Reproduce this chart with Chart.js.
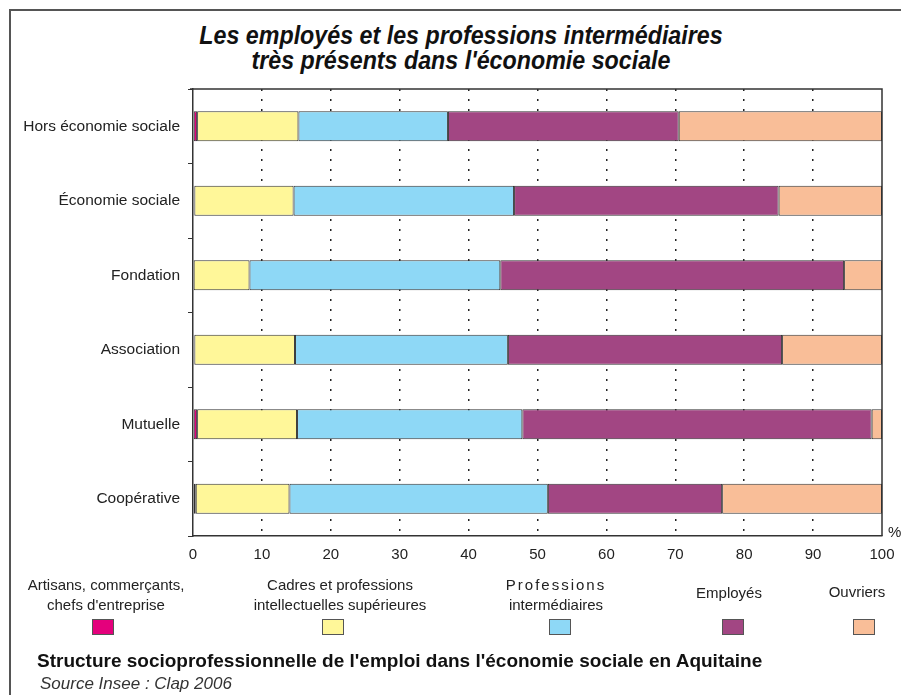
<!DOCTYPE html>
<html lang="fr">
<head>
<meta charset="utf-8">
<script src="https://cdn.jsdelivr.net/npm/chart.js@4"></script>
<style>
  body { margin: 0; background: #fff; }
  #wrap { position: relative; width: 901px; height: 695px; overflow: hidden; font-family: "Liberation Sans", Arial, sans-serif; color: #222; }
  #wrap canvas { position: absolute; left: 0; top: 0; }
  .frame { position: absolute; left: 9px; top: 9px; width: 1000px; height: 1000px; border-left: 2px solid #555; border-top: 2px solid #555; }
  .title { position: absolute; left: 0; width: 922px; top: 23px; text-align: center; font-weight: bold; font-style: italic; font-size: 25px; line-height: 25px; color: #111; transform: scaleX(0.93); transform-origin: 461px 0; }
  .pct { position: absolute; left: 888px; top: 523px; font-size: 15px; }
  .leg { position: absolute; width: 240px; text-align: center; font-size: 15px; line-height: 20px; color: #222; }
  .sp { letter-spacing: 2px; }
  .sq { position: absolute; top: 619px; width: 20px; height: 14px; border: 1px solid #555; }
  .caption { position: absolute; left: 37px; top: 650px; font-weight: bold; font-size: 19px; color: #111; }
  .source { position: absolute; left: 40px; top: 674px; font-style: italic; font-size: 17px; color: #333; }
</style>
</head>
<body>
<div id="wrap">
  <div class="frame"></div>
  <div class="title">Les employés et les professions intermédiaires<br>très présents dans l'économie sociale</div>
  <canvas id="chart" width="901" height="695"></canvas>
  <div class="pct">%</div>
  <div id="legend"></div>
  <div class="caption">Structure socioprofessionnelle de l'emploi dans l'économie sociale en Aquitaine</div>
  <div class="source">Source Insee : Clap 2006</div>
</div>
<script>
const categories = ['Hors économie sociale', 'Économie sociale', 'Fondation', 'Association', 'Mutuelle', 'Coopérative'];

const artisans = [0.6, 0.2, 0.1, 0.2, 0.6, 0.4];
const cadres = [14.7, 14.4, 8.1, 14.6, 14.5, 13.6];
const intermediaires = [21.7, 32.0, 36.4, 30.9, 32.7, 37.5];
const employes = [33.5, 38.4, 49.9, 39.8, 50.7, 25.3];
const ouvriers = [29.5, 15.0, 5.5, 14.5, 1.5, 23.2];

const seriesNames = ['Artisans, commerçants,<br>chefs d\'entreprise', 'Cadres et professions<br>intellectuelles supérieures', '<span class="sp">Professions</span><br>intermédiaires', 'Employés', 'Ouvriers'];
const seriesColors = ['#e4007c', '#fff799', '#8ed8f6', '#a24683', '#f9be98'];
const xTicks = [0, 10, 20, 30, 40, 50, 60, 70, 80, 90, 100];

// legende faite en html, positions prises sur l'image
const legendPos = [
    { x: 106, y: 575, sq: 92 },
    { x: 340, y: 575, sq: 322 },
    { x: 556, y: 575, sq: 549 },
    { x: 729, y: 583, sq: 722 },
    { x: 857, y: 582, sq: 853 }
];
const legend = document.getElementById('legend');
legendPos.forEach((p, i) => {
    const t = document.createElement('div');
    t.className = 'leg';
    t.style.left = (p.x - 120) + 'px';
    t.style.top = p.y + 'px';
    t.innerHTML = seriesNames[i];
    legend.appendChild(t);
    const s = document.createElement('div');
    s.className = 'sq';
    s.style.left = p.sq + 'px';
    s.style.background = seriesColors[i];
    legend.appendChild(s);
});

const frame = {
    id: 'frame',
    afterDatasetsDraw(chart) {
        const { ctx, chartArea: a } = chart;
        ctx.save();
        ctx.strokeStyle = '#333';
        ctx.lineWidth = 1.5;
        ctx.beginPath();
        ctx.moveTo(a.left - 3, a.top);
        ctx.lineTo(a.right, a.top);
        ctx.lineTo(a.right, a.bottom);
        ctx.stroke();
        ctx.restore();
    }
};

const values = [artisans, cadres, intermediaires, employes, ouvriers];

new Chart(document.getElementById('chart'), {
    type: 'bar',
    data: {
        labels: categories,
        datasets: values.map((d, i) => ({
            label: seriesNames[i].replace(/<[^>]+>/g, ' '),
            data: d,
            backgroundColor: seriesColors[i],
            borderColor: '#333',
            borderWidth: 1,
            borderSkipped: false,
            barPercentage: 0.4,
            categoryPercentage: 1
        }))
    },
    options: {
        indexAxis: 'y',
        responsive: false,
        animation: false,
        layout: { padding: { top: 89, right: 19, bottom: 129, left: 0 } },
        plugins: { legend: { display: false }, tooltip: { enabled: false } },
        scales: {
            x: {
                stacked: true, min: 0, max: 100,
                afterBuildTicks: s => { s.ticks = xTicks.map(v => ({ value: v })); },
                afterFit: s => { s.height = 30; s.paddingLeft = 0; s.paddingRight = 0; },
                ticks: { color: '#222', font: { family: 'Liberation Sans', size: 15 }, padding: 10 },
                grid: {
                    drawTicks: false,
                    lineWidth: 1.5,
                    color: ctx => (ctx.tick && (ctx.tick.value === 0 || ctx.tick.value === 100)) ? 'rgba(0,0,0,0)' : '#222'
                },
                border: { display: true, color: '#333', width: 1.5, dash: [2, 8] }
            },
            y: {
                stacked: true,
                afterFit: s => { s.width = 193; },
                ticks: { color: '#222', font: { family: 'Liberation Sans', size: 15.5 }, padding: 8 },
                grid: { drawOnChartArea: false, drawTicks: true, tickLength: 5, color: '#333', offset: true },
                border: { display: true, color: '#333', width: 1.5 }
            }
        }
    },
    plugins: [frame]
});
</script>
</body>
</html>
